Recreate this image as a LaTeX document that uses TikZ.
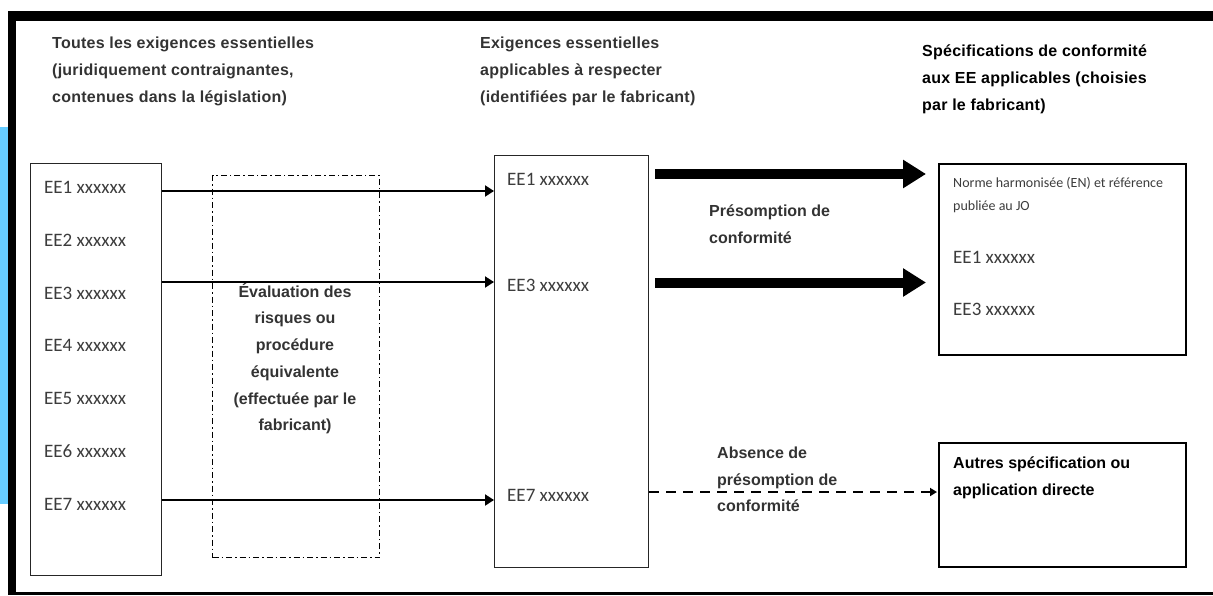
\documentclass[tikz,border=0pt]{standalone}
\usepackage{fontspec}
\setmainfont{Liberation Sans}
\newfontfamily\carl{Carlito}
\newfontfamily\hdrfont{Liberation Sans}[LetterSpace=1.5]
\usetikzlibrary{arrows.meta,calc}
\definecolor{txtgray}{HTML}{333333}
\definecolor{eegray}{HTML}{3C3C3C}
\definecolor{sidebl}{HTML}{66CCFF}
\begin{document}
\begin{tikzpicture}[x=1pt,y=-1pt,
  lbl/.style={anchor=base west,inner sep=0pt,font=\bfseries\fontsize{16}{16}\selectfont,text=txtgray},
  lblk/.style={lbl,text=black},
  hdr/.style={anchor=base west,inner sep=0pt,font=\hdrfont\bfseries\fontsize{16}{16}\selectfont,text=txtgray},
  hdrk/.style={hdr,text=black},
  eva/.style={anchor=base,inner sep=0pt,font=\bfseries\fontsize{16}{16}\selectfont,text=txtgray},
  ee/.style={anchor=base west,inner sep=0pt,font=\carl\fontsize{19}{19}\selectfont,text=eegray},
  small/.style={anchor=base west,inner sep=0pt,font=\carl\fontsize{14}{14}\selectfont,text=eegray},
  box/.style={draw=black!85,line width=1.3pt,inner sep=0pt,anchor=north west},
  rbox/.style={draw=black,line width=1.5pt,inner sep=0pt,anchor=north west},
  thin/.style={line width=2pt,-{Triangle[length=9pt,width=11pt]}},
  thick/.style={line width=10pt,-{Triangle[length=23pt,width=27pt]}},
  dsh/.style={line width=2pt,dash pattern=on 10pt off 7pt,-{Triangle[length=7pt,width=8pt]}}
]
\useasboundingbox (0,0) rectangle (1213,595);
% frame
\fill[sidebl] (0,127) rectangle (8,504);
\fill[black] (8,11) rectangle (1213,21);
\fill[black] (8,11) rectangle (16,595);
\fill[black] (16,592) rectangle (1213,595);

% headers
\node[hdr] (hl1) at (52,48) {Toutes les exigences essentielles};
\node[hdr] (hl2) at (52,75) {(juridiquement contraignantes,};
\node[hdr] (hl3) at (52,102) {contenues dans la législation)};
\node[hdr] (hm1) at (480,48) {Exigences essentielles};
\node[hdr] (hm2) at (480,75) {applicables à respecter};
\node[hdr] (hm3) at (480,102) {(identifiées par le fabricant)};
\node[hdrk] (hr1) at (922,56) {Spécifications de conformité};
\node[hdrk] (hr2) at (922,83) {aux EE applicables (choisies};
\node[hdrk] (hr3) at (922,110) {par le fabricant)};

% boxes
\node[box,minimum width=131pt,minimum height=412pt] (lbox) at (30,163) {};
\node[box,minimum width=154pt,minimum height=412pt] (mbox) at (494,155) {};
\node[rbox,minimum width=247pt,minimum height=191pt] (rtop) at (938,163) {};
\node[rbox,minimum width=247pt,minimum height=124pt] (rbot) at (938,442) {};
\node[draw=black,line width=1.2pt,dash pattern=on 6pt off 3pt on 1.5pt off 3pt,inner sep=0pt,anchor=north west,minimum width=167pt,minimum height=382pt] (evbox) at (212,175) {};

% left list
\node[ee] (l1) at (44,193) {EE1 xxxxxx};
\node[ee] (l2) at (44,246) {EE2 xxxxxx};
\node[ee] (l3) at (44,299) {EE3 xxxxxx};
\node[ee] (l4) at (44,351.5) {EE4 xxxxxx};
\node[ee] (l5) at (44,404) {EE5 xxxxxx};
\node[ee] (l6) at (44,457) {EE6 xxxxxx};
\node[ee] (l7) at (44,510) {EE7 xxxxxx};

% evaluation text
\node[eva] (ev1) at (295,297) {Évaluation des};
\node[eva] (ev2) at (295,323.5) {risques ou};
\node[eva] (ev3) at (295,350.5) {procédure};
\node[eva] (ev4) at (295,377.5) {équivalente};
\node[eva] (ev5) at (295,404) {(effectuée par le};
\node[eva] (ev6) at (295,430.5) {fabricant)};

% middle list
\node[ee] (m1) at (507,185) {EE1 xxxxxx};
\node[ee] (m3) at (507,291.5) {EE3 xxxxxx};
\node[ee] (m7) at (507,501.5) {EE7 xxxxxx};

% right top
\node[small] (n1) at (953,187) {Norme harmonisée (EN) et référence};
\node[small] (n2) at (953,210) {publiée au JO};
\node[ee] (r1) at (953,263) {EE1 xxxxxx};
\node[ee] (r3) at (953,315) {EE3 xxxxxx};

% right bottom
\node[lblk] (o1) at (953,468) {Autres spécification ou};
\node[lblk] (o2) at (953,495) {application directe};

% labels
\node[lbl] (p1) at (709,216.5) {Présomption de};
\node[lbl] (p2) at (709,243) {conformité};
\node[lbl] (a1) at (717,458) {Absence de};
\node[lbl] (a2) at (717,485) {présomption de};
\node[lbl] (a3) at (717,511.5) {conformité};

% arrow levels
\coordinate (y1) at (0,191);
\coordinate (y3) at (0,282);
\coordinate (y7) at (0,500);
\coordinate (t1) at (0,174);
\coordinate (t3) at (0,282.5);
\coordinate (d7) at (0,492);

\draw[thin] (lbox.east |- y1) -- (mbox.west |- y1);
\draw[thin] (lbox.east |- y3) -- (mbox.west |- y3);
\draw[thin] (lbox.east |- y7) -- (mbox.west |- y7);

\draw[thick] ([xshift=6pt]mbox.east |- t1) -- ([xshift=-12pt]rtop.west |- t1);
\draw[thick] ([xshift=6pt]mbox.east |- t3) -- ([xshift=-12pt]rtop.west |- t3);

\draw[dsh] (mbox.east |- d7) -- ([xshift=-1pt]rbot.west |- d7);
\end{tikzpicture}
\end{document}
